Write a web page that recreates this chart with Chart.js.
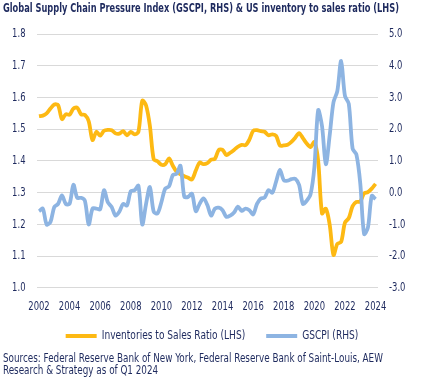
<!DOCTYPE html>
<html>
<head>
<meta charset="utf-8">
<script src="https://cdn.jsdelivr.net/npm/chart.js@4.4.1/dist/chart.umd.min.js"></script>
<style>
  html, body { margin: 0; padding: 0; background: #ffffff; }
  #wrap { width: 421px; height: 382px; }
</style>
</head>
<body>
<div id="wrap"><canvas id="c" width="421" height="382"></canvas></div>
<script>
// ---- data (quarterly, Q1 2002 .. Q1 2024) ----
const titleText = 'Global Supply Chain Pressure Index (GSCPI, RHS) & US inventory to sales ratio (LHS)';
const sourceLines = [
  'Sources: Federal Reserve Bank of New York, Federal Reserve Bank of Saint-Louis, AEW',
  'Research & Strategy as of Q1 2024'
];
const seriesNames = ['Inventories to Sales Ratio (LHS)', 'GSCPI (RHS)'];
const yearTicks = [2002, 2004, 2006, 2008, 2010, 2012, 2014, 2016, 2018, 2020, 2022, 2024];
const leftTicks = [1.0, 1.1, 1.2, 1.3, 1.4, 1.5, 1.6, 1.7, 1.8];
const rightTicks = [-3, -2, -1, 0, 1, 2, 3, 4, 5];

const inventoryToSales = [
  1.541, 1.543, 1.550, 1.565, 1.578, 1.576, 1.532, 1.547, 1.546, 1.565,
  1.568, 1.547, 1.545, 1.525, 1.466, 1.492, 1.480, 1.495, 1.498, 1.497,
  1.487, 1.486, 1.494, 1.481, 1.492, 1.484, 1.492, 1.590, 1.575, 1.510,
  1.405, 1.399, 1.388, 1.390, 1.408, 1.385, 1.366, 1.358, 1.352, 1.347,
  1.342, 1.370, 1.395, 1.390, 1.393, 1.404, 1.407, 1.435, 1.435, 1.419,
  1.426, 1.435, 1.445, 1.451, 1.450, 1.467, 1.495, 1.497, 1.494, 1.492,
  1.481, 1.484, 1.479, 1.449, 1.449, 1.451, 1.460, 1.473, 1.488, 1.472,
  1.455, 1.444, 1.460, 1.400, 1.235, 1.250, 1.200, 1.104, 1.139, 1.145,
  1.206, 1.220, 1.258, 1.271, 1.272, 1.298, 1.302, 1.313, 1.328
];

const gscpi = [
  -0.58, -0.50, -1.00, -0.92, -0.45, -0.35, -0.08, -0.35, -0.35, 0.25,
  -0.16, -0.16, -0.25, -1.00, -0.50, -0.50, -0.52, 0.08, -0.30, -0.45,
  -0.72, -0.60, -0.35, -0.40, 0.05, 0.08, 0.22, -1.00, -0.35, 0.18,
  -0.60, -0.65, -0.30, 0.13, 0.20, 0.56, 0.60, 0.85, -0.13, -0.13,
  -0.03, -0.58, -0.35, -0.18, -0.38, -0.72, -0.50, -0.47, -0.55, -0.76,
  -0.72, -0.62, -0.44, -0.57, -0.50, -0.55, -0.68, -0.35, -0.18, -0.15,
  0.08, 0.00, 0.35, 0.72, 0.40, 0.38, 0.43, 0.44, 0.25, -0.35,
  -0.25, -0.05, 0.80, 2.60, 2.10, 0.90, 1.80, 2.85, 3.20, 4.15,
  3.05, 2.80, 1.39, 1.20, 0.30, -1.30, -1.10, -0.10, -0.20
];

// quarter positions (decimal years) used as the labels
const quarters = [];
for (let y = 2002; y <= 2024; y++) {
  for (let q = 0; q < 4; q++) {
    if (y === 2024 && q > 0) break;
    quarters.push(y + q / 4);
  }
}

const NAVY = '#1E2A5E';
const GOLD = '#FDB913';
const BLUE = '#8DB4E2';
const GRID = '#D9D9D9';
const FONT = "'DejaVu Sans Condensed', 'DejaVu Sans', sans-serif";

const seriesColors = [GOLD, BLUE];

// The original uses a narrow DIN-like face; condense text horizontally to mimic it.
const SOURCE_SQUEEZE = 0.816;
const LEGEND_SQUEEZE = 0.84;
const TICK_SQUEEZE = 0.78;

function withSqueezedFill(ctx, r, fn) {
  const proto = Object.getPrototypeOf(ctx).fillText;
  ctx.fillText = function (t, x, y, mw) {
    const w = ctx.measureText(t).width * r;
    return proto.call(ctx, t, x, y, mw === undefined ? w : Math.min(mw, w));
  };
  try { fn(); } finally { delete ctx.fillText; }
}

function hScaleDraw(box, r, anchor) {
  const orig = box.draw.bind(box);
  box.draw = function (...args) {
    const ctx = this.ctx;
    const cx = anchor(this);
    ctx.save();
    ctx.translate(cx, 0);
    ctx.scale(r, 1);
    ctx.translate(-cx, 0);
    orig(...args);
    ctx.restore();
  };
}

const textWidthPlugin = {
  id: 'textWidth',
  afterLayout(chart) {
    if (chart.titleBlock) chart.titleBlock.right = 399;
    chart.boxes.forEach(b => {
      if (b !== chart.titleBlock && b.options && Array.isArray(b.options.text)) {
        b.right = b.left + 390 / SOURCE_SQUEEZE;
        if (!b._squeezed) { hScaleDraw(b, SOURCE_SQUEEZE, bx => bx.left); b._squeezed = true; }
      }
    });
    const lg = chart.legend;
    if (lg && !lg._squeezed) {
      hScaleDraw(lg, LEGEND_SQUEEZE, bx => (bx.left + bx.right) / 2);
      lg._squeezed = true;
    }
    // let the year labels hang below the (short) x-axis box without being clipped
    if (chart.scales.x) chart.scales.x.bottom = chart.height;
    Object.values(chart.scales).forEach(s => {
      if (!s._squeezed) {
        const origLabels = s.drawLabels.bind(s);
        s.drawLabels = function (area) {
          withSqueezedFill(this.ctx, TICK_SQUEEZE, () => origLabels(area));
        };
        s._squeezed = true;
      }
    });
  }
};

new Chart(document.getElementById('c'), {
  type: 'line',
  data: {
    labels: quarters,
    datasets: [
      {
        label: seriesNames[0],
        data: inventoryToSales,
        yAxisID: 'yL',
        borderColor: GOLD,
        backgroundColor: GOLD,
        borderWidth: 3.8,
        pointRadius: 0,
        tension: 0.3,
        order: 2
      },
      {
        label: seriesNames[1],
        data: gscpi,
        yAxisID: 'yR',
        borderColor: BLUE,
        backgroundColor: BLUE,
        borderWidth: 3.8,
        pointRadius: 0,
        tension: 0.3,
        order: 1
      }
    ]
  },
  plugins: [textWidthPlugin],
  options: {
    responsive: false,
    devicePixelRatio: 1,
    animation: false,
    layout: { padding: { left: 3, right: 0, top: 0, bottom: 0 } },
    plugins: {
      tooltip: { enabled: false },
      title: {
        display: true,
        text: titleText,
        align: 'start',
        color: NAVY,
        font: { family: FONT, size: 11.5, weight: 'bold', lineHeight: 1.2 },
        padding: { top: 2, bottom: 18.2 }
      },
      subtitle: {
        display: true,
        position: 'bottom',
        text: sourceLines,
        align: 'start',
        color: NAVY,
        font: { family: FONT, size: 12, weight: 'normal', lineHeight: 1.0667 },
        padding: { top: 0, bottom: 4.4 }
      },
      legend: {
        display: true,
        position: 'bottom',
        labels: {
          color: NAVY,
          font: { family: FONT, size: 12 },
          boxWidth: 36.9,
          boxHeight: 4,
          padding: 25,
          useBorderRadius: true,
          borderRadius: 2,
          generateLabels: () => seriesNames.map((name, i) => ({
            text: name,
            fillStyle: seriesColors[i],
            strokeStyle: seriesColors[i],
            lineWidth: 0,
            fontColor: NAVY,
            hidden: false,
            datasetIndex: i
          }))
        }
      }
    },
    scales: {
      x: {
        type: 'linear',
        min: 2001.87,
        max: 2024.16,
        grid: { display: false, drawTicks: false, tickLength: 0 },
        border: { display: false },
        afterBuildTicks: s => { s.ticks = yearTicks.map(v => ({ value: v })); },
        afterFit: s => { s.height = 17; },
        ticks: {
          color: NAVY,
          font: { family: FONT, size: 12, lineHeight: 1.1 },
          padding: 12.5,
          maxRotation: 0,
          autoSkip: false,
          callback: v => String(v)
        }
      },
      yL: {
        type: 'linear',
        position: 'left',
        min: 1.0,
        max: 1.8,
        afterBuildTicks: s => { s.ticks = leftTicks.map(v => ({ value: v })); },
        afterFit: s => { s.width = 34; },
        grid: { color: GRID, lineWidth: 1, drawTicks: false, tickLength: 0 },
        border: { display: false },
        ticks: {
          color: NAVY,
          font: { family: FONT, size: 12 },
          padding: 11.5,
          callback: v => Number(v).toFixed(1)
        }
      },
      yR: {
        type: 'linear',
        position: 'right',
        min: -3,
        max: 5,
        afterBuildTicks: s => { s.ticks = rightTicks.map(v => ({ value: v })); },
        afterFit: s => { s.width = 43; },
        grid: { display: false, drawOnChartArea: false, drawTicks: false, tickLength: 0 },
        border: { display: false },
        ticks: {
          color: NAVY,
          font: { family: FONT, size: 12 },
          padding: 11,
          callback: v => Number(v).toFixed(1)
        }
      }
    }
  }
});
</script>
</body>
</html>
